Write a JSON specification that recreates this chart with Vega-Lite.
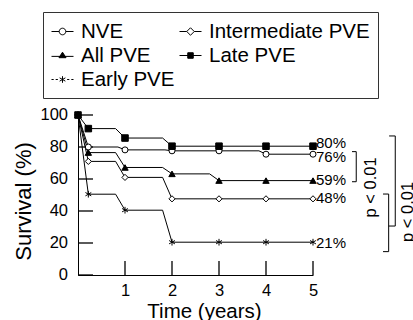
{
  "$schema": "https://vega.github.io/schema/vega-lite/v6.json",
  "width": 235,
  "height": 160,
  "autosize": {"type": "none"},
  "padding": {"left": 78, "top": 115, "right": 100, "bottom": 45},
  "config": {
    "view": {"stroke": null},
    "font": "Liberation Sans",
    "axis": {
      "grid": false,
      "domainColor": "black",
      "labelColor": "black",
      "titleColor": "black",
      "labelFont": "Liberation Sans",
      "titleFont": "Liberation Sans",
      "titleFontWeight": "normal",
      "labelFontSize": 16.5,
      "labelOverlap": false,
      "labelBound": false
    }
  },
  "datasets": {
    "curve": [
      {"g": "NVE", "t": 0, "v": 100}, {"g": "NVE", "t": 0.22, "v": 80}, {"g": "NVE", "t": 0.85, "v": 80}, {"g": "NVE", "t": 1, "v": 78.2}, {"g": "NVE", "t": 1.85, "v": 78.2}, {"g": "NVE", "t": 2, "v": 77.6}, {"g": "NVE", "t": 3, "v": 77.6}, {"g": "NVE", "t": 3.85, "v": 77.6}, {"g": "NVE", "t": 4, "v": 75.5}, {"g": "NVE", "t": 5, "v": 75.5},
      {"g": "Intermediate PVE", "t": 0, "v": 100}, {"g": "Intermediate PVE", "t": 0.22, "v": 71}, {"g": "Intermediate PVE", "t": 0.8, "v": 71}, {"g": "Intermediate PVE", "t": 1, "v": 61}, {"g": "Intermediate PVE", "t": 1.8, "v": 61}, {"g": "Intermediate PVE", "t": 2, "v": 47.6}, {"g": "Intermediate PVE", "t": 5, "v": 47.6},
      {"g": "All PVE", "t": 0, "v": 100}, {"g": "All PVE", "t": 0.22, "v": 76.5}, {"g": "All PVE", "t": 0.8, "v": 76.5}, {"g": "All PVE", "t": 1, "v": 67.2}, {"g": "All PVE", "t": 1.8, "v": 67.2}, {"g": "All PVE", "t": 2, "v": 63.2}, {"g": "All PVE", "t": 2.8, "v": 63.2}, {"g": "All PVE", "t": 3, "v": 59}, {"g": "All PVE", "t": 5, "v": 59},
      {"g": "Early PVE", "t": 0, "v": 100}, {"g": "Early PVE", "t": 0.22, "v": 50.5}, {"g": "Early PVE", "t": 0.8, "v": 50.5}, {"g": "Early PVE", "t": 1, "v": 40.5}, {"g": "Early PVE", "t": 1.8, "v": 40.5}, {"g": "Early PVE", "t": 2, "v": 20.5}, {"g": "Early PVE", "t": 5, "v": 20.5},
      {"g": "Late PVE", "t": 0, "v": 100}, {"g": "Late PVE", "t": 0.22, "v": 91.5}, {"g": "Late PVE", "t": 0.8, "v": 91.5}, {"g": "Late PVE", "t": 1, "v": 85.6}, {"g": "Late PVE", "t": 1.8, "v": 85.6}, {"g": "Late PVE", "t": 2, "v": 80.5}, {"g": "Late PVE", "t": 5, "v": 80.5}
    ],
    "marks": [
      {"g": "NVE", "t": 0, "v": 100}, {"g": "NVE", "t": 0.22, "v": 80}, {"g": "NVE", "t": 1, "v": 78.2}, {"g": "NVE", "t": 2, "v": 77.6}, {"g": "NVE", "t": 3, "v": 77.6}, {"g": "NVE", "t": 4, "v": 75.5}, {"g": "NVE", "t": 5, "v": 75.5},
      {"g": "Intermediate PVE", "t": 0, "v": 100}, {"g": "Intermediate PVE", "t": 0.22, "v": 71}, {"g": "Intermediate PVE", "t": 1, "v": 61}, {"g": "Intermediate PVE", "t": 2, "v": 47.6}, {"g": "Intermediate PVE", "t": 3, "v": 47.6}, {"g": "Intermediate PVE", "t": 4, "v": 47.6}, {"g": "Intermediate PVE", "t": 5, "v": 47.6},
      {"g": "All PVE", "t": 0, "v": 100}, {"g": "All PVE", "t": 0.22, "v": 76.5}, {"g": "All PVE", "t": 1, "v": 67.2}, {"g": "All PVE", "t": 2, "v": 63.2}, {"g": "All PVE", "t": 3, "v": 59}, {"g": "All PVE", "t": 4, "v": 59}, {"g": "All PVE", "t": 5, "v": 59},
      {"g": "Early PVE", "t": 0, "v": 100}, {"g": "Early PVE", "t": 0.22, "v": 50.5}, {"g": "Early PVE", "t": 1, "v": 40.5}, {"g": "Early PVE", "t": 2, "v": 20.5}, {"g": "Early PVE", "t": 3, "v": 20.5}, {"g": "Early PVE", "t": 4, "v": 20.5}, {"g": "Early PVE", "t": 5, "v": 20.5},
      {"g": "Late PVE", "t": 0, "v": 100}, {"g": "Late PVE", "t": 0.22, "v": 91.5}, {"g": "Late PVE", "t": 1, "v": 85.6}, {"g": "Late PVE", "t": 2, "v": 80.5}, {"g": "Late PVE", "t": 3, "v": 80.5}, {"g": "Late PVE", "t": 4, "v": 80.5}, {"g": "Late PVE", "t": 5, "v": 80.5}
    ],
    "yticks": [{"v": 0, "label": "0"}, {"v": 20, "label": "20"}, {"v": 40, "label": "40"}, {"v": 60, "label": "60"}, {"v": 80, "label": "80"}, {"v": 100, "label": "100"}],
    "xticks": [{"t": 1, "lo": 0, "hi": 8.8}, {"t": 2, "lo": 0, "hi": 8.8}, {"t": 3, "lo": 0, "hi": 8.8}, {"t": 4, "lo": 0, "hi": 8.8}, {"t": 5, "lo": 0, "hi": 8.8}],
    "ends": [
      {"t": 5, "v": 82.5, "label": "80%"},
      {"t": 5, "v": 73.5, "label": "76%"},
      {"t": 5, "v": 59.4, "label": "59%"},
      {"t": 5, "v": 47.9, "label": "48%"},
      {"t": 5, "v": 20.2, "label": "21%"}
    ],
    "brackets": [
      {"t": 5.83, "t2": 5.92, "v": 77.1, "v2": 77.1},
      {"t": 5.92, "t2": 5.92, "v": 77.1, "v2": 58.3},
      {"t": 5.83, "t2": 5.92, "v": 58.3, "v2": 58.3},
      {"t": 6.49, "t2": 6.61, "v": 50.6, "v2": 50.6},
      {"t": 6.61, "t2": 6.61, "v": 50.6, "v2": 14.6},
      {"t": 6.49, "t2": 6.61, "v": 14.6, "v2": 14.6},
      {"t": 6.61, "t2": 6.75, "v": 30.6, "v2": 30.6},
      {"t": 6.62, "t2": 6.75, "v": 86.9, "v2": 86.9},
      {"t": 6.75, "t2": 6.75, "v": 86.9, "v2": 30.6}
    ],
    "ptext": [
      {"t": 6.23, "v": 54.7, "label": "p < 0.01"},
      {"t": 7.03, "v": 39.4, "label": "p < 0.01"}
    ]
  },
  "layer": [
    {
      "data": {"name": "curve"},
      "mark": {"type": "line", "color": "black", "strokeWidth": 1, "interpolate": "linear"},
      "encoding": {
        "x": {
          "field": "t", "type": "quantitative", "title": "Time (years)",
          "scale": {"domain": [0, 5], "nice": false, "zero": false},
          "axis": {"values": [1, 2, 3, 4, 5], "ticks": false, "labelPadding": 7, "labelOverlap": false, "titleX": 126, "titleY": 36, "titleBaseline": "middle", "titleFontSize": 20.5, "labelFlush": false}
        },
        "y": {
          "field": "v", "type": "quantitative", "title": "Survival (%)",
          "scale": {"domain": [0, 100], "nice": false},
          "axis": {"values": [0, 20, 40, 60, 80, 100], "ticks": false, "labels": false, "titleX": -54.5, "titleY": 86, "titleBaseline": "middle", "titleAngle": 270, "titleFontSize": 22}
        },
        "detail": {"field": "g"}
      }
    },
    {
      "data": {"name": "yticks"},
      "mark": {"type": "rule", "color": "black", "strokeWidth": 1.3, "opacity": 1},
      "encoding": {
        "x": {"datum": 0, "type": "quantitative"},
        "x2": {"datum": 0.32},
        "y": {"field": "v", "type": "quantitative", "title": "Survival (%)"}
      }
    },
    {
      "data": {"name": "yticks"},
      "mark": {"type": "text", "align": "right", "baseline": "middle", "dx": -10, "fontSize": 16.5, "color": "black"},
      "encoding": {
        "x": {"datum": 0, "type": "quantitative"},
        "y": {"field": "v", "type": "quantitative", "title": "Survival (%)"},
        "text": {"field": "label"}
      }
    },
    {
      "data": {"name": "xticks"},
      "mark": {"type": "rule", "color": "black", "strokeWidth": 1.3, "opacity": 1},
      "encoding": {
        "x": {"field": "t", "type": "quantitative", "title": "Time (years)"},
        "y": {"field": "lo", "type": "quantitative", "title": "Survival (%)"},
        "y2": {"field": "hi"}
      }
    },
    {
      "data": {"name": "brackets"},
      "mark": {"type": "rule", "color": "black", "strokeWidth": 1},
      "encoding": {
        "x": {"field": "t", "type": "quantitative", "title": "Time (years)"},
        "x2": {"field": "t2"},
        "y": {"field": "v", "type": "quantitative", "title": "Survival (%)"},
        "y2": {"field": "v2"}
      }
    },
    {
      "data": {"name": "marks"},
      "mark": {"type": "point", "stroke": "black", "strokeWidth": 1, "opacity": 1},
      "encoding": {
        "x": {"field": "t", "type": "quantitative", "title": "Time (years)"},
        "y": {"field": "v", "type": "quantitative", "title": "Survival (%)"},
        "shape": {
          "field": "g", "type": "nominal", "legend": null,
          "scale": {
            "domain": ["NVE", "Intermediate PVE", "All PVE", "Late PVE", "Early PVE"],
            "range": ["circle", "diamond", "triangle-up", "square", "M0,-1V1M-0.87,-0.5L0.87,0.5M-0.87,0.5L0.87,-0.5"]
          }
        },
        "fill": {
          "field": "g", "type": "nominal", "legend": null,
          "scale": {
            "domain": ["NVE", "Intermediate PVE", "All PVE", "Late PVE", "Early PVE"],
            "range": ["white", "white", "black", "black", "white"]
          }
        },
        "size": {
          "field": "g", "type": "nominal", "legend": null,
          "scale": {
            "domain": ["NVE", "Intermediate PVE", "All PVE", "Late PVE", "Early PVE"],
            "range": [36, 45, 50, 36, 50]
          }
        }
      }
    },
    {
      "data": {"name": "marks"},
      "transform": [{"filter": "datum.t < 0"}],
      "mark": {"type": "point", "stroke": "black", "strokeWidth": 1, "opacity": 1, "size": 484},
      "encoding": {
        "x": {"field": "t", "type": "quantitative", "title": "Time (years)"},
        "y": {"field": "v", "type": "quantitative", "title": "Survival (%)"},
        "shape": {
          "field": "g", "type": "nominal",
          "scale": {
            "domain": ["NVE", "Intermediate PVE", "All PVE", "Late PVE", "Early PVE"],
            "range": [
              "M-1,0H-0.3M0.3,0H1M0.3,0A0.3,0.3 0 1,1 -0.3,0A0.3,0.3 0 1,1 0.3,0Z",
              "M-1,0H-0.34M0.34,0H1M0,-0.34L0.34,0L0,0.34L-0.34,0Z",
              "M-1,0.08H1M0,-0.3L0.32,0.2L-0.32,0.2Z",
              "M-1,0H1M-0.25,-0.25H0.25V0.25H-0.25Z",
              "M-1,0H-0.8M-0.62,0H-0.42M0.42,0H0.62M0.8,0H1M0,-0.3V0.3M-0.26,-0.15L0.26,0.15M-0.26,0.15L0.26,-0.15"
            ]
          },
          "legend": {
            "orient": "none", "legendX": -35, "legendY": -103, "columns": 2, "direction": "horizontal", "title": null,
            "labelFontSize": 20.5, "labelFont": "Liberation Sans", "labelColor": "black",
            "symbolSize": 484, "symbolStrokeColor": "black", "symbolStrokeWidth": 1, "symbolOpacity": 1,
            "labelOffset": 7, "rowPadding": 2, "columnPadding": 2, "padding": 8,
            "strokeColor": "#333", "labelLimit": 300,
            "encode": {"symbols": {"update": {"stroke": {"value": "black"}, "strokeWidth": {"value": 1}, "opacity": {"value": 1}}}}
          }
        },
        "fill": {
          "field": "g", "type": "nominal",
          "scale": {
            "domain": ["NVE", "Intermediate PVE", "All PVE", "Late PVE", "Early PVE"],
            "range": ["white", "white", "black", "black", "white"]
          },
          "legend": {
            "orient": "none", "legendX": -35, "legendY": -103, "columns": 2, "direction": "horizontal", "title": null,
            "labelFontSize": 20.5, "labelFont": "Liberation Sans", "labelColor": "black",
            "symbolSize": 484, "symbolStrokeColor": "black", "symbolStrokeWidth": 1, "symbolOpacity": 1,
            "labelOffset": 7, "rowPadding": 2, "columnPadding": 2, "padding": 8,
            "strokeColor": "#333", "labelLimit": 300,
            "encode": {"symbols": {"update": {"stroke": {"value": "black"}, "strokeWidth": {"value": 1}, "opacity": {"value": 1}}}}
          }
        }
      }
    },
    {
      "data": {"name": "ends"},
      "mark": {"type": "text", "align": "left", "baseline": "middle", "dx": 3, "fontSize": 15, "color": "black"},
      "encoding": {
        "x": {"field": "t", "type": "quantitative", "title": "Time (years)"},
        "y": {"field": "v", "type": "quantitative", "title": "Survival (%)"},
        "text": {"field": "label"}
      }
    },
    {
      "data": {"name": "ptext"},
      "mark": {"type": "text", "align": "center", "baseline": "middle", "angle": 270, "fontSize": 16.5, "color": "black"},
      "encoding": {
        "x": {"field": "t", "type": "quantitative", "title": "Time (years)"},
        "y": {"field": "v", "type": "quantitative", "title": "Survival (%)"},
        "text": {"field": "label"}
      }
    }
  ],
  "resolve": {"scale": {"shape": "independent", "fill": "independent", "size": "independent"}}
}
